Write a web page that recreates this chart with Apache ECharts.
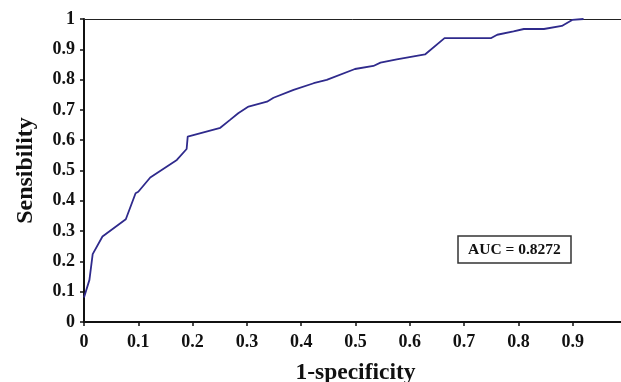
<!DOCTYPE html>
<html><head><meta charset="utf-8">
<script src="https://cdn.jsdelivr.net/npm/echarts@6/dist/echarts.min.js"></script>
<style>html,body{margin:0;padding:0;background:#fff}#c{width:621px;height:382px}</style>
</head><body><div id="c"></div>
<script>
const fpr = [0, 0.010, 0.016, 0.034, 0.077, 0.095, 0.100, 0.122, 0.171, 0.189, 0.191, 0.251, 0.269, 0.284, 0.303, 0.337, 0.349, 0.386, 0.423, 0.447, 0.499, 0.533, 0.546, 0.576, 0.628, 0.664, 0.750, 0.761, 0.791, 0.810, 0.847, 0.880, 0.899, 0.920];
const tpr = [0.081, 0.139, 0.224, 0.282, 0.339, 0.425, 0.43, 0.477, 0.535, 0.571, 0.612, 0.641, 0.667, 0.689, 0.711, 0.727, 0.740, 0.766, 0.788, 0.799, 0.835, 0.845, 0.856, 0.867, 0.883, 0.937, 0.937, 0.948, 0.959, 0.967, 0.967, 0.977, 0.997, 1.0];
const aucText = 'AUC = 0.8272';
const xTitle = '1-specificity';
const yTitle = 'Sensibility';

const font = 'Liberation Serif';
const chart = echarts.init(document.getElementById('c'), null, {renderer: 'canvas'});
chart.setOption({
  animation: false,
  grid: {left: 84, top: 19, bottom: 60, right: -6, containLabel: false, outerBoundsMode: 'none'},
  title: {
    text: aucText, left: 458, top: 236,
    borderColor: '#333', borderWidth: 1.5, padding: [6, 10, 5, 10],
    textStyle: {fontFamily: font, fontWeight: 'bold', fontSize: 15.5, color: '#111'}
  },
  xAxis: [{
    type: 'value', min: 0, max: 1, interval: 0.1,
    name: xTitle, nameLocation: 'middle', nameGap: 39,
    nameTextStyle: {fontFamily: font, fontWeight: 'bold', fontSize: 23.5, color: '#111'},
    axisLine: {lineStyle: {color: '#111', width: 2}},
    axisTick: {show: true, length: 4, lineStyle: {color: '#111', width: 1.5}},
    axisLabel: {fontFamily: font, fontWeight: 'bold', fontSize: 18, color: '#111', margin: 11,
      formatter: v => (Math.round(v * 10) / 10).toString()},
    splitLine: {show: false}
  }, {
    type: 'value', position: 'top', min: 0, max: 1,
    axisLine: {show: true, lineStyle: {color: '#222', width: 1}},
    axisTick: {show: false}, axisLabel: {show: false}, splitLine: {show: false}
  }],
  yAxis: {
    type: 'value', min: 0, max: 1, interval: 0.1,
    name: yTitle, nameLocation: 'middle', nameGap: 46, nameRotate: 90,
    nameTextStyle: {fontFamily: font, fontWeight: 'bold', fontSize: 24, color: '#111'},
    axisLine: {show: true, lineStyle: {color: '#111', width: 2}},
    axisTick: {show: true, length: 4, lineStyle: {color: '#111', width: 1.5}},
    axisLabel: {fontFamily: font, fontWeight: 'bold', fontSize: 18, color: '#111', margin: 9,
      formatter: v => (Math.round(v * 10) / 10).toString()},
    splitLine: {show: false}
  },
  series: [{
    type: 'line', xAxisIndex: 0,
    data: fpr.map((x, i) => [x, tpr[i]]),
    showSymbol: false, symbol: 'none',
    lineStyle: {color: '#2f2a8c', width: 1.8},
    clip: false
  }]
});
</script>
</body></html>
